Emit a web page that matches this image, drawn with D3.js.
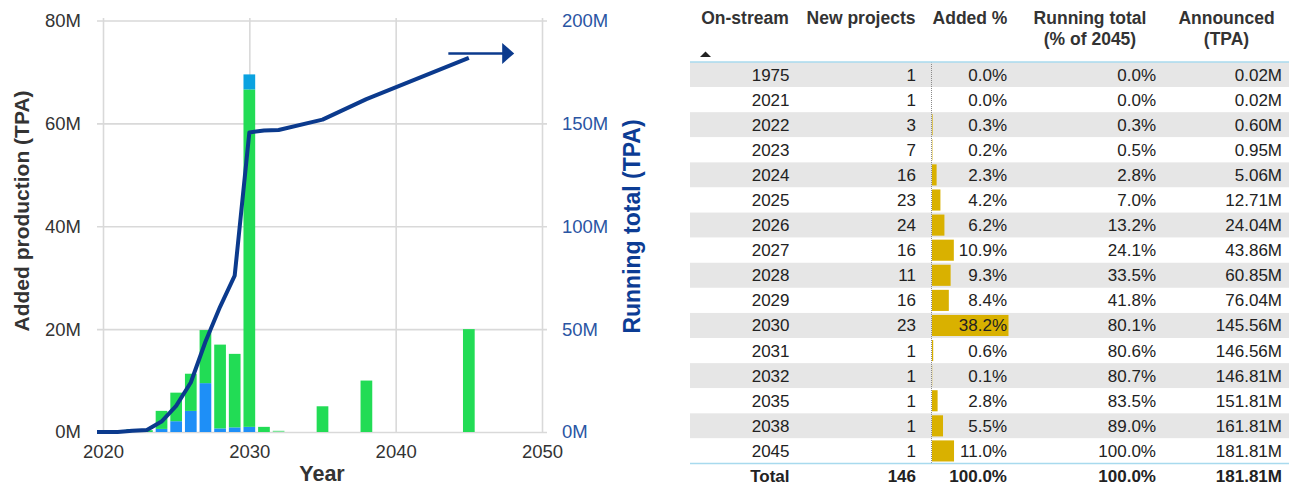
<!DOCTYPE html>
<html>
<head>
<meta charset="utf-8">
<script src="https://cdn.jsdelivr.net/npm/d3@7"></script>
<style>
  body { margin: 0; background: #fff; }
  svg { font-family: "Liberation Sans", Arial, sans-serif; display: block; }
</style>
</head>
<body>
<svg width="1294" height="486"></svg>
<script>
// table / line data
const years = ["1975", "2021", "2022", "2023", "2024", "2025", "2026", "2027", "2028", "2029", "2030", "2031", "2032", "2035", "2038", "2045"];
const newProjects = [1, 1, 3, 7, 16, 23, 24, 16, 11, 16, 23, 1, 1, 1, 1, 1];
const addedPct = [0.0, 0.0, 0.3, 0.2, 2.3, 4.2, 6.2, 10.9, 9.3, 8.4, 38.2, 0.6, 0.1, 2.8, 5.5, 11.0];
const runningPct = [0.0, 0.0, 0.3, 0.5, 2.8, 7.0, 13.2, 24.1, 33.5, 41.8, 80.1, 80.6, 80.7, 83.5, 89.0, 100.0];
const announced = [0.02, 0.02, 0.60, 0.95, 5.06, 12.71, 24.04, 43.86, 60.85, 76.04, 145.56, 146.56, 146.81, 151.81, 161.81, 181.81];
const totals = ["Total", "146", "100.0%", "100.0%", "181.81M"];

// stacked bars (added production, millions TPA)
const barYears = [2022, 2023, 2024, 2025, 2026, 2027, 2028, 2029, 2030, 2031, 2032, 2035, 2038, 2045];
const blueVals = [0, 0, 0.6, 2.1, 4.1, 9.5, 0.7, 0.9, 1.0, 0, 0, 0, 0, 0];
const greenVals = [0.58, 0.35, 3.51, 5.55, 7.23, 10.32, 16.29, 14.29, 65.6, 1.0, 0, 5.0, 10.0, 20.0];
const cyanVals = [0, 0, 0, 0, 0, 0, 0, 0, 2.92, 0, 0, 0, 0, 0];
const paleVals = [0, 0, 0, 0, 0, 0, 0, 0, 0, 0, 0.25, 0, 0, 0];

const leftTicks = [0, 20, 40, 60, 80];
const rightTicks = [0, 50, 100, 150, 200];
const xTicks = [2020, 2030, 2040, 2050];
const arrowFrom = [2043.6, 184];
const arrowTo = [2048.1, 184];

const svg = d3.select("svg");

const x = d3.scaleLinear().domain([2020, 2050]).range([103, 542]);
const yL = d3.scaleLinear().domain([0, 80]).range([432, 20.5]);
const yR = d3.scaleLinear().domain([0, 200]).range([432, 20.5]);

// grid + left axis
const gl = svg.append("g")
  .attr("transform", "translate(97,0)")
  .call(d3.axisLeft(yL).tickValues(leftTicks).tickSize(-450).tickPadding(16).tickFormat(d => d + "M"));
gl.select(".domain").remove();
gl.selectAll("line").attr("stroke", "#d9d9d9").attr("stroke-width", 1.6);
gl.selectAll("text").attr("fill", "#333").style("font-size", "18.5px");

// x axis with vertical grid
const gx = svg.append("g")
  .attr("transform", "translate(0,432)")
  .call(d3.axisBottom(x).tickValues(xTicks).tickSize(-414).tickPadding(13).tickFormat(d3.format("d")));
gx.select(".domain").remove();
gx.selectAll("line").attr("stroke", "#d9d9d9").attr("stroke-width", 1.6);
gx.selectAll("text").attr("fill", "#333").style("font-size", "18.5px");

// right axis
const gr = svg.append("g")
  .attr("transform", "translate(547,0)")
  .call(d3.axisRight(yR).tickValues(rightTicks).tickSize(0).tickPadding(15).tickFormat(d => d + "M"));
gr.select(".domain").remove();
gr.selectAll("text").attr("fill", "#2a55a3").style("font-size", "18.5px");

// bars
const barData = barYears.map((yr, i) => ({ year: yr, blue: blueVals[i], green: greenVals[i], cyan: cyanVals[i], pale: paleVals[i] }));
const keys = ["blue", "green", "cyan", "pale"];
const colors = { blue: "#1e8ff7", green: "#22dc55", cyan: "#0aa2e0", pale: "#7fe59b" };
const stacked = d3.stack().keys(keys)(barData);
const bw = (x(2021) - x(2020)) * 0.8;

svg.append("g").selectAll("g")
  .data(stacked)
  .enter()
  .append("g")
  .attr("fill", s => colors[s.key])
  .selectAll("rect")
  .data(s => s)
  .enter()
  .append("rect")
  .attr("x", d => x(d.data.year) - bw / 2)
  .attr("width", bw)
  .attr("y", d => yL(d[1]))
  .attr("height", d => yL(d[0]) - yL(d[1]));

// running total line
svg.append("clipPath").attr("id", "plotclip")
  .append("rect").attr("x", 97).attr("y", 0).attr("width", 450).attr("height", 440);

const line = d3.line().x(d => x(d[0])).y(d => yR(d[1]));
svg.append("path")
  .datum(years.map((y, i) => [+y, announced[i]]))
  .attr("clip-path", "url(#plotclip)")
  .attr("d", line)
  .attr("fill", "none")
  .attr("stroke", "#0b3a8d")
  .attr("stroke-width", 4)
  .attr("stroke-linejoin", "round");

// arrow annotation
const ax0 = x(arrowFrom[0]), ax1 = x(arrowTo[0]), ay = yR(arrowFrom[1]);
svg.append("line")
  .attr("x1", ax0).attr("x2", ax1 - 10).attr("y1", ay).attr("y2", ay)
  .attr("stroke", "#0b3a8d").attr("stroke-width", 2.5);
svg.append("path")
  .attr("d", `M${ax1 - 12},${ay - 10.5} L${ax1},${ay} L${ax1 - 12},${ay + 10.5} Z`)
  .attr("fill", "#0b3a8d");

// axis titles
svg.append("text")
  .attr("transform", "translate(28.5,211) rotate(-90)")
  .attr("text-anchor", "middle")
  .attr("font-weight", "bold").attr("font-size", 21).attr("fill", "#333")
  .text("Added production (TPA)");

svg.append("text")
  .attr("transform", "translate(640,226.5) rotate(-90)")
  .attr("text-anchor", "middle")
  .attr("font-weight", "bold").attr("font-size", 23).attr("fill", "#0c3c94")
  .text("Running total (TPA)");

svg.append("text")
  .attr("x", 322).attr("y", 481)
  .attr("text-anchor", "middle")
  .attr("font-weight", "bold").attr("font-size", 21.5).attr("fill", "#333")
  .text("Year");

// ---- table ----
const tLeft = 690, tRight = 1289;
const rows = d3.scaleBand().domain(years).range([62, 463.5]);
const pctX = d3.scaleLinear().domain([0, 38.2]).range([932, 1008.5]);
const colRight = [789.5, 916, 1007, 1156, 1282];

const table = svg.append("g");

table.selectAll("rect.band")
  .data(years)
  .enter()
  .append("rect")
  .attr("class", "band")
  .attr("x", tLeft)
  .attr("width", tRight - tLeft)
  .attr("y", d => rows(d))
  .attr("height", rows.bandwidth())
  .attr("fill", (d, i) => i % 2 === 0 ? "#e6e6e6" : "#fff");

// data bars for Added %
table.selectAll("rect.pct")
  .data(addedPct)
  .enter()
  .append("rect")
  .attr("class", "pct")
  .attr("x", pctX(0))
  .attr("y", (d, i) => rows(years[i]) + 2)
  .attr("width", d => pctX(d) - pctX(0))
  .attr("height", rows.bandwidth() - 4)
  .attr("fill", "#d9b100");

table.append("line")
  .attr("x1", 931.5).attr("x2", 931.5)
  .attr("y1", rows.range()[0]).attr("y2", rows.range()[1])
  .attr("stroke", "#8a8a8a").attr("stroke-width", 1).attr("stroke-dasharray", "1,1");

[rows.range()[0], rows.range()[1]].forEach(yy => {
  table.append("line")
    .attr("x1", tLeft).attr("x2", tRight)
    .attr("y1", yy).attr("y2", yy)
    .attr("stroke", "#a8daee").attr("stroke-width", 1.6);
});

const cellText = years.map((y, i) => [
  y,
  String(newProjects[i]),
  addedPct[i].toFixed(1) + "%",
  runningPct[i].toFixed(1) + "%",
  announced[i].toFixed(2) + "M"
]);

cellText.forEach((cells, i) => {
  table.selectAll(null)
    .data(cells)
    .enter()
    .append("text")
    .attr("x", (d, j) => colRight[j])
    .attr("y", rows(years[i]) + rows.bandwidth() / 2 + 6)
    .attr("text-anchor", "end")
    .attr("font-size", 17)
    .attr("fill", "#222")
    .text(d => d);
});

table.selectAll(null)
  .data(totals)
  .enter()
  .append("text")
  .attr("x", (d, j) => colRight[j])
  .attr("y", 481.5)
  .attr("text-anchor", "end")
  .attr("font-size", 17)
  .attr("font-weight", "bold")
  .attr("fill", "#222")
  .text(d => d);

// header
const headers = [
  { lines: ["On-stream"], cx: 745 },
  { lines: ["New projects"], cx: 861 },
  { lines: ["Added %"], cx: 970 },
  { lines: ["Running total", "(% of 2045)"], cx: 1090 },
  { lines: ["Announced", "(TPA)"], cx: 1226.5 }
];
headers.forEach(h => {
  h.lines.forEach((t, k) => {
    table.append("text")
      .attr("x", h.cx)
      .attr("y", 23.5 + k * 21.5)
      .attr("text-anchor", "middle")
      .attr("font-size", 17.5)
      .attr("font-weight", "bold")
      .attr("fill", "#333")
      .text(t);
  });
});

// sort arrow
table.append("path")
  .attr("d", "M700,57 L705.5,51.5 L711,57 Z")
  .attr("fill", "#222");
</script>
</body>
</html>
